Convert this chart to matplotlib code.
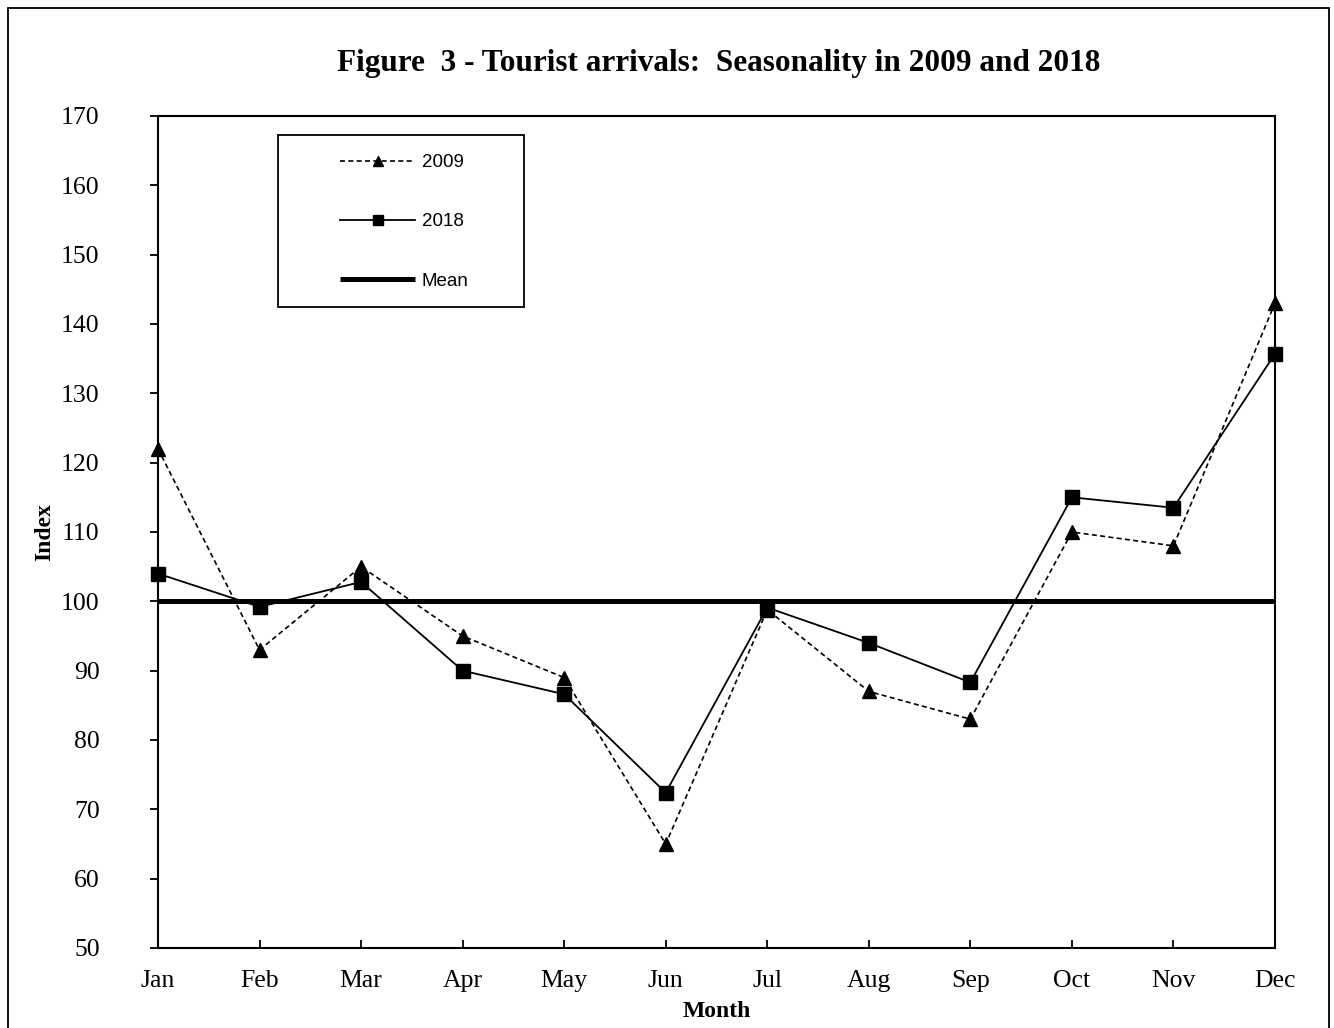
import matplotlib
matplotlib.use("Agg")
import matplotlib.pyplot as plt
from matplotlib.patches import Rectangle

months = ["Jan", "Feb", "Mar", "Apr", "May", "Jun", "Jul", "Aug", "Sep", "Oct", "Nov", "Dec"]
idx_2009 = [122, 93, 105, 95, 89, 65, 98.8, 87, 83, 110, 108, 143]
idx_2018 = [104, 99.2, 102.8, 90, 86.6, 72.4, 99.1, 94, 88.3, 115, 113.5, 135.7]
mean_value = 100
y_ticks = [50, 60, 70, 80, 90, 100, 110, 120, 130, 140, 150, 160, 170]

plt.rcParams['font.family'] = ['Liberation Serif', 'DejaVu Serif']

W, H = 1334, 1028
fig = plt.figure(figsize=(W / 100, H / 100), dpi=100)
fig.patches.append(Rectangle((8 / W, -0.05), (1329 - 8) / W, 1.05 - 8 / H,
                             transform=fig.transFigure, fill=False,
                             edgecolor='black', linewidth=1.3))

ax = fig.add_axes([158 / W, (H - 948) / H, (1275 - 158) / W, (948 - 116) / H])
x = list(range(len(months)))

ax.plot(x, idx_2009, color='black', linewidth=1.2, dashes=(3, 2),
        marker='^', markersize=10, label='2009', clip_on=False, zorder=3)
ax.plot(x, idx_2018, color='black', linewidth=1.3,
        marker='s', markersize=10, label='2018', clip_on=False, zorder=4)
ax.plot(x, [mean_value] * len(months), color='black', linewidth=3.6,
        label='Mean', zorder=2, solid_capstyle='butt')

ax.set_xlim(0, len(months) - 1)
ax.set_ylim(50, 170)
ax.set_xticks(x)
ax.set_xticklabels(months)
ax.set_yticks(y_ticks)
ax.tick_params(axis='x', direction='in', length=6, width=1.3, pad=16, labelsize=18.5)
ax.tick_params(axis='y', direction='out', length=6, width=1.3, pad=36, labelsize=18.5)
for s in ax.spines.values():
    s.set_linewidth(1.5)

ax.set_xlabel('Month', fontsize=17, fontweight='bold', labelpad=6)
ax.set_ylabel('Index', fontsize=17, fontweight='bold', labelpad=4)
fig.text(719 / W, 1 - 63 / H, 'Figure  3 - Tourist arrivals:  Seasonality in 2009 and 2018',
         ha='center', va='center', fontsize=22.5, fontweight='bold')

# legend frame
ax.add_patch(Rectangle(((278 - 158) / (1275 - 158), (948 - 307) / 832),
                       (524 - 278) / (1275 - 158), (307 - 135) / 832,
                       transform=ax.transAxes, fill=False, edgecolor='black',
                       linewidth=1.3, zorder=5))
leg = ax.legend(loc='upper left', bbox_to_anchor=((340 - 158) / 1117, (948 - 154) / 832),
                frameon=False, borderpad=0, borderaxespad=0, handlelength=4.0,
                handletextpad=0.35, labelspacing=2.25, markerscale=0.65,
                prop={'family': ['Liberation Sans'], 'size': 13.5})

fig.savefig('out.png', dpi=100)
